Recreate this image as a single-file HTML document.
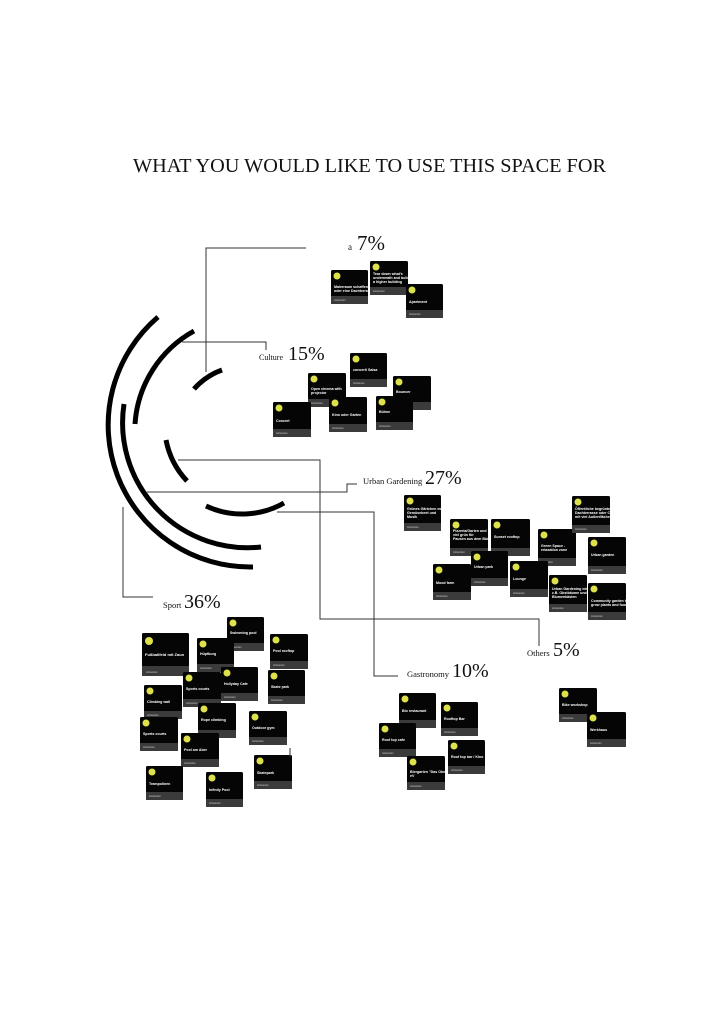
<!DOCTYPE html>
<html><head><meta charset="utf-8"><style>
html,body{margin:0;padding:0;background:#fff;}
svg{display:block;}
.c rect.b{fill:#050505;}
.c rect.f{fill:#3b3b3b;}
.c circle{fill:#dde24c;}
.c text{fill:#fff;font-family:"Liberation Sans",sans-serif;font-weight:bold;font-size:3.6px;}
.c text.s{font-size:2.6px;font-weight:normal;fill:#ccc;}
.ln{stroke:#333;stroke-width:1;fill:none;}
.arc{stroke:#000;stroke-width:5;fill:none;stroke-linecap:butt;}
.ser{font-family:"Liberation Serif",serif;fill:#111;}
</style></head><body>
<svg width="723" height="1023" viewBox="0 0 723 1023" xmlns="http://www.w3.org/2000/svg">
<defs>
<g id="ft"><text class="s" x="4" y="0">Antworten</text></g>
</defs>
<text class="ser" x="133" y="172" font-size="20" textLength="473" lengthAdjust="spacingAndGlyphs">WHAT YOU WOULD LIKE TO USE THIS SPACE FOR</text>

<!-- arcs -->
<path class="arc" d="M158,317 A142,142 0 0 0 253,567"/>
<path class="arc" d="M124,404 A125,125 0 0 0 261,547"/>
<path class="arc" d="M194,331 A115,115 0 0 0 135,424"/>
<path class="arc" d="M166,440 A83,83 0 0 0 187,481"/>
<path class="arc" d="M194,389 A68,68 0 0 1 222,370"/>
<path class="arc" d="M206,506 A85,85 0 0 0 284,503"/>

<!-- connectors -->
<polyline class="ln" points="306,248 206,248 206,372"/>
<polyline class="ln" points="182,342 266,342 266,350"/>
<polyline class="ln" points="178,460 320,460 320,619 539,619 539,646"/>
<polyline class="ln" points="147,492 347,492 347,484 357,484"/>
<polyline class="ln" points="277,512 374,512 374,676 398,676"/>
<polyline class="ln" points="123,507 123,597 153,597"/>

<!-- labels -->
<text class="ser" x="348" y="250" font-size="9">a</text>
<text class="ser" x="357" y="250" font-size="21">7%</text>
<text class="ser" x="259" y="360" font-size="8">Culture</text>
<text class="ser" x="288" y="360" font-size="20">15%</text>
<text class="ser" x="363" y="484" font-size="8.5">Urban Gardening</text>
<text class="ser" x="425" y="484" font-size="20">27%</text>
<text class="ser" x="163" y="608" font-size="8.5">Sport</text>
<text class="ser" x="184" y="608" font-size="20">36%</text>
<text class="ser" x="527" y="656" font-size="8.5">Others</text>
<text class="ser" x="553" y="656" font-size="20">5%</text>
<text class="ser" x="407" y="677" font-size="8.5">Gastronomy</text>
<text class="ser" x="452" y="677" font-size="20">10%</text>

<!-- cards: a -->
<g class="c" transform="translate(331,270)"><rect class="b" width="37" height="34" rx="1.5"/><rect class="f" y="26" width="37" height="8"/><circle cx="6" cy="6" r="3.5"/><text x="3" y="18">Malerraum schaffen</text><text x="3" y="22">oder eine Dachterrasse</text><text class="s" x="3" y="31">Antworten</text></g>
<g class="c" transform="translate(370,261)"><rect class="b" width="38" height="34" rx="1.5"/><rect class="f" y="26" width="38" height="8"/><circle cx="6" cy="6" r="3.5"/><text x="3" y="14">Tear down what's</text><text x="3" y="18">underneath and build</text><text x="3" y="22">a higher building</text><text class="s" x="3" y="31">Antworten</text></g>
<g class="c" transform="translate(406,284)"><rect class="b" width="37" height="34" rx="1.5"/><rect class="f" y="26" width="37" height="8"/><circle cx="6" cy="6" r="3.5"/><text x="3" y="19">Apartment</text><text class="s" x="3" y="31">Antworten</text></g>

<!-- culture -->
<g class="c" transform="translate(350,353)"><rect class="b" width="37" height="34" rx="1.5"/><rect class="f" y="26" width="37" height="8"/><circle cx="6" cy="6" r="3.5"/><text x="3" y="18">concert/ Salsa</text><text class="s" x="3" y="31">Antworten</text></g>
<g class="c" transform="translate(308,373)"><rect class="b" width="38" height="34" rx="1.5"/><rect class="f" y="26" width="38" height="8"/><circle cx="6" cy="6" r="3.5"/><text x="3" y="17">Open cinema with</text><text x="3" y="21">projector</text><text class="s" x="3" y="31">Antworten</text></g>
<g class="c" transform="translate(393,376)"><rect class="b" width="38" height="34" rx="1.5"/><rect class="f" y="26" width="38" height="8"/><circle cx="6" cy="6" r="3.5"/><text x="3" y="17">Bouncer</text><text class="s" x="3" y="31">Antworten</text></g>
<g class="c" transform="translate(329,397)"><rect class="b" width="38" height="35" rx="1.5"/><rect class="f" y="27" width="38" height="8"/><circle cx="6" cy="6" r="3.5"/><text x="3" y="19">Kino oder Garten</text><text class="s" x="3" y="32">Antworten</text></g>
<g class="c" transform="translate(376,396)"><rect class="b" width="37" height="34" rx="1.5"/><rect class="f" y="26" width="37" height="8"/><circle cx="6" cy="6" r="3.5"/><text x="3" y="17">Bühne</text><text class="s" x="3" y="31">Antworten</text></g>
<g class="c" transform="translate(273,402)"><rect class="b" width="38" height="35" rx="1.5"/><rect class="f" y="27" width="38" height="8"/><circle cx="6" cy="6" r="3.5"/><text x="3" y="20">Concert</text><text class="s" x="3" y="32">Antworten</text></g>

<!-- urban gardening -->
<g class="c" transform="translate(404,495)"><rect class="b" width="37" height="36" rx="1.5"/><rect class="f" y="28" width="37" height="8"/><circle cx="6" cy="6" r="3.5"/><text x="3" y="15">Grünes Gärtchen mit</text><text x="3" y="19">Gemüsebeet und</text><text x="3" y="23">Musik</text><text class="s" x="3" y="33">Antworten</text></g>
<g class="c" transform="translate(450,519)"><rect class="b" width="38" height="37" rx="1.5"/><rect class="f" y="29" width="38" height="8"/><circle cx="6" cy="6" r="3.5"/><text x="3" y="13">Pizzeria/Garten und</text><text x="3" y="17">viel grün für</text><text x="3" y="21">Pausen aus dem Büro</text><text class="s" x="3" y="34">Antworten</text></g>
<g class="c" transform="translate(491,519)"><rect class="b" width="39" height="37" rx="1.5"/><rect class="f" y="29" width="39" height="8"/><circle cx="6" cy="6" r="3.5"/><text x="3" y="19">Sunset rooftop</text><text class="s" x="3" y="34">Antworten</text></g>
<g class="c" transform="translate(538,529)"><rect class="b" width="38" height="37" rx="1.5"/><rect class="f" y="29" width="38" height="8"/><circle cx="6" cy="6" r="3.5"/><text x="3" y="18">Green Space -</text><text x="3" y="22">relaxation zone</text><text class="s" x="3" y="34">Antworten</text></g>
<g class="c" transform="translate(572,496)"><rect class="b" width="38" height="37" rx="1.5"/><rect class="f" y="29" width="38" height="8"/><circle cx="6" cy="6" r="3.5"/><text x="3" y="14">Öffentliche begrünte</text><text x="3" y="18">Dachterrasse oder Café</text><text x="3" y="22">mit viel Außenfläche</text><text class="s" x="3" y="34">Antworten</text></g>
<g class="c" transform="translate(588,537)"><rect class="b" width="38" height="37" rx="1.5"/><rect class="f" y="29" width="38" height="8"/><circle cx="6" cy="6" r="3.5"/><text x="3" y="19">Urban garden</text><text class="s" x="3" y="34">Antworten</text></g>
<g class="c" transform="translate(471,551)"><rect class="b" width="37" height="35" rx="1.5"/><rect class="f" y="27" width="37" height="8"/><circle cx="6" cy="6" r="3.5"/><text x="3" y="17">Urban park</text><text class="s" x="3" y="32">Antworten</text></g>
<g class="c" transform="translate(433,564)"><rect class="b" width="38" height="36" rx="1.5"/><rect class="f" y="28" width="38" height="8"/><circle cx="6" cy="6" r="3.5"/><text x="3" y="20">Mood farm</text><text class="s" x="3" y="33">Antworten</text></g>
<g class="c" transform="translate(510,561)"><rect class="b" width="38" height="36" rx="1.5"/><rect class="f" y="28" width="38" height="8"/><circle cx="6" cy="6" r="3.5"/><text x="3" y="19">Lounge</text><text class="s" x="3" y="33">Antworten</text></g>
<g class="c" transform="translate(549,575)"><rect class="b" width="38" height="37" rx="1.5"/><rect class="f" y="29" width="38" height="8"/><circle cx="6" cy="6" r="3.5"/><text x="3" y="15">Urban Gardening mit</text><text x="3" y="19">z.B. Obstbäume und</text><text x="3" y="23">Blumenkästen</text><text class="s" x="3" y="34">Antworten</text></g>
<g class="c" transform="translate(588,583)"><rect class="b" width="38" height="37" rx="1.5"/><rect class="f" y="29" width="38" height="8"/><circle cx="6" cy="6" r="3.5"/><text x="3" y="19">Community garden to</text><text x="3" y="23">grow plants and food</text><text class="s" x="3" y="34">Antworten</text></g>

<!-- sport -->
<g class="c" transform="translate(227,617)"><rect class="b" width="37" height="34" rx="1.5"/><rect class="f" y="26" width="37" height="8"/><circle cx="6" cy="6" r="3.5"/><text x="3" y="17">Swimming pool</text><text class="s" x="3" y="31">Antworten</text></g>
<g class="c" transform="translate(142,633)"><rect class="b" width="47" height="43" rx="1.5"/><rect class="f" y="33" width="47" height="10"/><circle cx="7" cy="8" r="4"/><text x="3" y="23" style="font-size:4px">Fußballfeld mit Zaun</text><text class="s" x="4" y="40">Antworten</text></g>
<g class="c" transform="translate(197,638)"><rect class="b" width="37" height="34" rx="1.5"/><rect class="f" y="26" width="37" height="8"/><circle cx="6" cy="6" r="3.5"/><text x="3" y="17">Hüpfburg</text><text class="s" x="3" y="31">Antworten</text></g>
<g class="c" transform="translate(270,634)"><rect class="b" width="38" height="35" rx="1.5"/><rect class="f" y="27" width="38" height="8"/><circle cx="6" cy="6" r="3.5"/><text x="3" y="18">Pool rooftop</text><text class="s" x="3" y="32">Antworten</text></g>
<g class="c" transform="translate(221,667)"><rect class="b" width="37" height="34" rx="1.5"/><rect class="f" y="26" width="37" height="8"/><circle cx="6" cy="6" r="3.5"/><text x="3" y="18">Hollyday Cafe</text><text class="s" x="3" y="31">Antworten</text></g>
<g class="c" transform="translate(183,672)"><rect class="b" width="38" height="35" rx="1.5"/><rect class="f" y="27" width="38" height="8"/><circle cx="6" cy="6" r="3.5"/><text x="3" y="18">Sports courts</text><text class="s" x="3" y="32">Antworten</text></g>
<g class="c" transform="translate(268,670)"><rect class="b" width="37" height="34" rx="1.5"/><rect class="f" y="26" width="37" height="8"/><circle cx="6" cy="6" r="3.5"/><text x="3" y="18">Skate park</text><text class="s" x="3" y="31">Antworten</text></g>
<g class="c" transform="translate(144,685)"><rect class="b" width="38" height="34" rx="1.5"/><rect class="f" y="26" width="38" height="8"/><circle cx="6" cy="6" r="3.5"/><text x="3" y="18">Climbing wall</text><text class="s" x="3" y="31">Antworten</text></g>
<g class="c" transform="translate(198,703)"><rect class="b" width="38" height="35" rx="1.5"/><rect class="f" y="27" width="38" height="8"/><circle cx="6" cy="6" r="3.5"/><text x="3" y="18">Rope climbing</text><text class="s" x="3" y="32">Antworten</text></g>
<g class="c" transform="translate(249,711)"><rect class="b" width="38" height="34" rx="1.5"/><rect class="f" y="26" width="38" height="8"/><circle cx="6" cy="6" r="3.5"/><text x="3" y="18">Outdoor gym</text><text class="s" x="3" y="31">Antworten</text></g>
<g class="c" transform="translate(140,717)"><rect class="b" width="38" height="34" rx="1.5"/><rect class="f" y="26" width="38" height="8"/><circle cx="6" cy="6" r="3.5"/><text x="3" y="18">Sports courts</text><text class="s" x="3" y="31">Antworten</text></g>
<g class="c" transform="translate(181,733)"><rect class="b" width="38" height="34" rx="1.5"/><rect class="f" y="26" width="38" height="8"/><circle cx="6" cy="6" r="3.5"/><text x="3" y="18">Pool am Aber</text><text class="s" x="3" y="31">Antworten</text></g>
<g class="c" transform="translate(254,755)"><rect class="b" width="38" height="34" rx="1.5"/><rect class="f" y="26" width="38" height="8"/><circle cx="6" cy="6" r="3.5"/><text x="3" y="19">Skatepark</text><text class="s" x="3" y="31">Antworten</text></g>
<g class="c" transform="translate(146,766)"><rect class="b" width="37" height="34" rx="1.5"/><rect class="f" y="26" width="37" height="8"/><circle cx="6" cy="6" r="3.5"/><text x="3" y="19">Trampolinen</text><text class="s" x="3" y="31">Antworten</text></g>
<g class="c" transform="translate(206,772)"><rect class="b" width="37" height="35" rx="1.5"/><rect class="f" y="27" width="37" height="8"/><circle cx="6" cy="6" r="3.5"/><text x="3" y="19">Infinity Pool</text><text class="s" x="3" y="32">Antworten</text></g>
<line class="ln" x1="290" y1="748" x2="290" y2="757"/>

<!-- gastronomy -->
<g class="c" transform="translate(399,693)"><rect class="b" width="37" height="35" rx="1.5"/><rect class="f" y="27" width="37" height="8"/><circle cx="6" cy="6" r="3.5"/><text x="3" y="19">Bio restaurant</text><text class="s" x="3" y="32">Antworten</text></g>
<g class="c" transform="translate(441,702)"><rect class="b" width="37" height="34" rx="1.5"/><rect class="f" y="26" width="37" height="8"/><circle cx="6" cy="6" r="3.5"/><text x="3" y="18">Rooftop Bar</text><text class="s" x="3" y="31">Antworten</text></g>
<g class="c" transform="translate(379,723)"><rect class="b" width="37" height="34" rx="1.5"/><rect class="f" y="26" width="37" height="8"/><circle cx="6" cy="6" r="3.5"/><text x="3" y="18">Roof top cafe</text><text class="s" x="3" y="31">Antworten</text></g>
<g class="c" transform="translate(448,740)"><rect class="b" width="37" height="34" rx="1.5"/><rect class="f" y="26" width="37" height="8"/><circle cx="6" cy="6" r="3.5"/><text x="3" y="18">Roof top bar / Kino</text><text class="s" x="3" y="31">Antworten</text></g>
<g class="c" transform="translate(407,756)"><rect class="b" width="38" height="34" rx="1.5"/><rect class="f" y="26" width="38" height="8"/><circle cx="6" cy="6" r="3.5"/><text x="3" y="17">Biergarten "Das Ober"</text><text x="3" y="21">eV</text><text class="s" x="3" y="31">Antworten</text></g>

<!-- others -->
<g class="c" transform="translate(559,688)"><rect class="b" width="38" height="34" rx="1.5"/><rect class="f" y="26" width="38" height="8"/><circle cx="6" cy="6" r="3.5"/><text x="3" y="18">Bike workshop</text><text class="s" x="3" y="31">Antworten</text></g>
<g class="c" transform="translate(587,712)"><rect class="b" width="39" height="35" rx="1.5"/><rect class="f" y="27" width="39" height="8"/><circle cx="6" cy="6" r="3.5"/><text x="3" y="19">Werkhaus</text><text class="s" x="3" y="32">Antworten</text></g>
</svg>
</body></html>
